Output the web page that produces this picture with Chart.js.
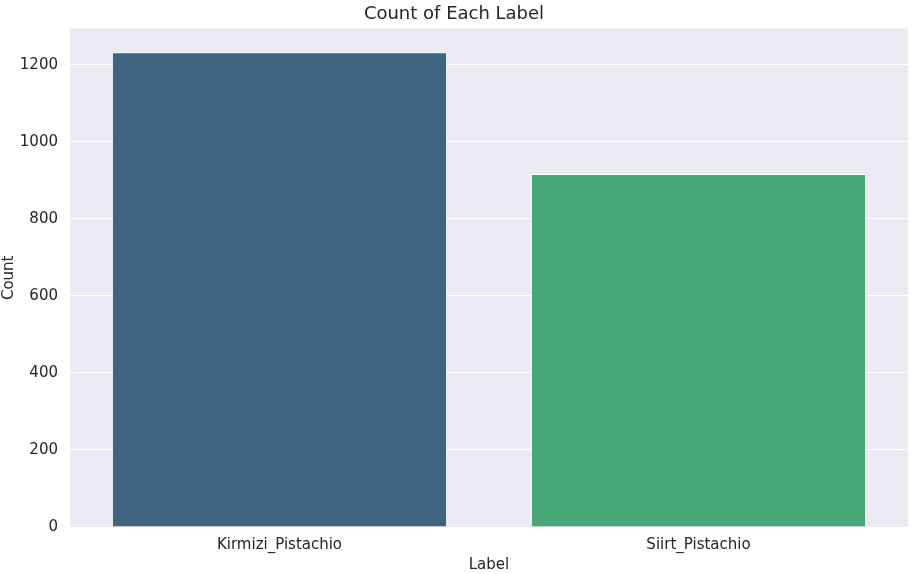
<!DOCTYPE html>
<html>
<head>
<meta charset="utf-8">
<script src="https://cdn.jsdelivr.net/npm/chart.js@4"></script>
<style>
  html, body { margin: 0; padding: 0; background: #fff; }
  #wrap { width: 916px; height: 574px; }
</style>
</head>
<body>
<div id="wrap"><canvas id="my-chart"></canvas></div>
<script>
const labels = ['Kirmizi_Pistachio', 'Siirt_Pistachio'];
const counts = [1232, 916];
const barColors = ['rgb(62, 100, 128)', 'rgb(71, 167, 118)'];
const yTicks = [0, 200, 400, 600, 800, 1000, 1200];

// seaborn darkgrid background behind the plot area
const plotBg = {
  id: 'plotBg',
  beforeDraw(chart) {
    const { ctx, chartArea: a } = chart;
    ctx.save();
    ctx.fillStyle = '#eaeaf2';
    ctx.fillRect(a.left, a.top, a.right - a.left, a.bottom - a.top);
    ctx.restore();
  }
};

Chart.defaults.font.family = 'DejaVu Sans';
Chart.defaults.color = '#262626';

const ctx = document.getElementById('my-chart').getContext('2d');
const chart = new Chart(ctx, {
  type: 'bar',
  data: {
    labels: labels,
    datasets: [{
      label: 'Count',
      data: counts,
      backgroundColor: barColors,
      borderColor: '#ffffff',
      borderWidth: 1,
      categoryPercentage: 0.8,
      barPercentage: 1.0
    }]
  },
  options: {
    responsive: true,
    maintainAspectRatio: false,
    animation: false,
    layout: { padding: { top: 0, right: 8, bottom: 0, left: 0 } },
    plugins: {
      legend: { display: false },
      tooltip: { enabled: false },
      title: {
        display: true,
        text: 'Count of Each Label',
        font: { size: 18, weight: 'normal' },
        color: '#262626',
        padding: { top: 4, bottom: 3 }
      }
    },
    scales: {
      x: {
        offset: true,
        afterFit(axis) { axis.height = 47; },
        grid: { display: false, drawTicks: false },
        border: { display: false },
        ticks: { font: { size: 15 }, color: '#262626', padding: 9 },
        title: { display: true, text: 'Label', font: { size: 15 }, color: '#262626', padding: { top: 1, bottom: 0 } }
      },
      y: {
        min: 0,
        max: 1293.6,
        afterFit(axis) { axis.width = 70; },
        afterBuildTicks(axis) { axis.ticks = yTicks.map(v => ({ value: v })); },
        grid: { color: '#ffffff', lineWidth: 1, drawTicks: false },
        border: { display: false },
        ticks: { font: { size: 15 }, color: '#262626', padding: 12, callback: v => String(v) },
        title: { display: true, text: 'Count', font: { size: 15 }, color: '#262626', padding: { top: 0, bottom: 2 } }
      }
    }
  },
  plugins: [plotBg]
});
</script>
</body>
</html>
